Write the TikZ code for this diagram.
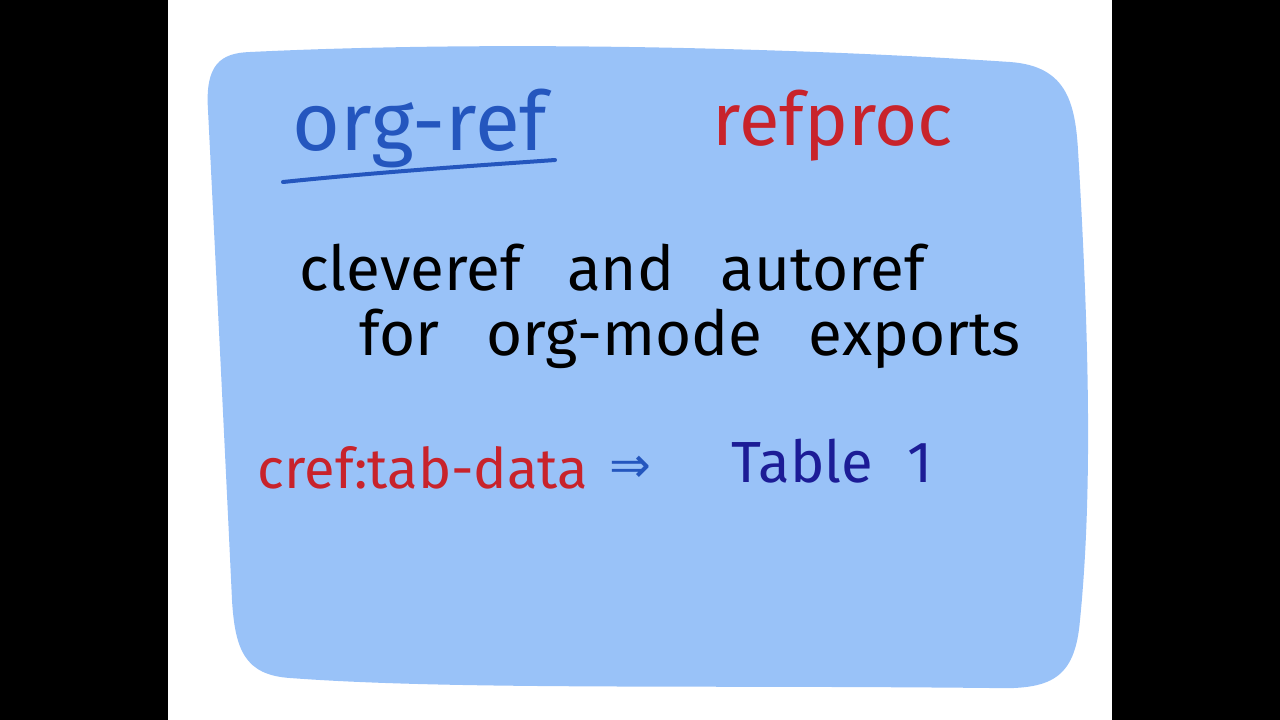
\documentclass[tikz,border=0pt]{standalone}
\usepackage{fontspec}
\setmainfont{Fira Sans}
\newfontfamily\symfont{DejaVu Sans}
\definecolor{blob}{HTML}{99C2F8}
\definecolor{orgblue}{HTML}{2456BE}
\definecolor{penred}{HTML}{C8232B}
\definecolor{navy}{HTML}{1C1C96}
\tikzset{hw/.style={inner sep=0pt,anchor=base,font=\fontsize{62}{70}\selectfont}}
\begin{document}
\begin{tikzpicture}[x=1pt,y=-1pt]
\useasboundingbox (0,0) rectangle (1280,720);
\fill[black] (0,0) rectangle (168,720);
\fill[black] (1112,0) rectangle (1280,720);
\fill[blob] (250,52) .. controls (500,40) and (800,48) .. (1010,62)
  .. controls (1065,66) and (1075,100) .. (1078,150)
  .. controls (1090,350) and (1092,500) .. (1080,620)
  .. controls (1075,680) and (1050,690) .. (990,688)
  .. controls (700,685) and (450,690) .. (290,678)
  .. controls (245,675) and (235,650) .. (232,600)
  .. controls (225,450) and (215,250) .. (208,110)
  .. controls (205,65) and (220,53) .. (250,52) -- cycle;
\node[hw,text=orgblue,font=\fontsize{82}{90}\selectfont] (orgref) at (420,150) {org-ref};
\draw[orgblue,line width=4pt,line cap=round] (283,182) .. controls (380,172) and (470,166) .. (555,160);
\node[hw,text=penred,font=\fontsize{74}{90}\selectfont] (refproc) at (833,145) {refproc};
\node[hw] (l1) at (612,290) {cleveref\hspace{0.75em}and\hspace{0.75em}autoref};
\node[hw] (l2) at (690,355) {for\hspace{0.75em}org-mode\hspace{0.75em}exports};
\node[hw,text=penred,font=\fontsize{56}{60}\selectfont] (cref) at (423,488) {cref:tab-data};
\node[hw,text=orgblue,font=\symfont\fontsize{50}{60}\selectfont] (arr) at (630,482) {⇒};
\node[hw,text=navy,font=\fontsize{58}{60}\selectfont] (tab) at (832,482) {Table\hspace{0.6em}1};
\end{tikzpicture}
\end{document}
